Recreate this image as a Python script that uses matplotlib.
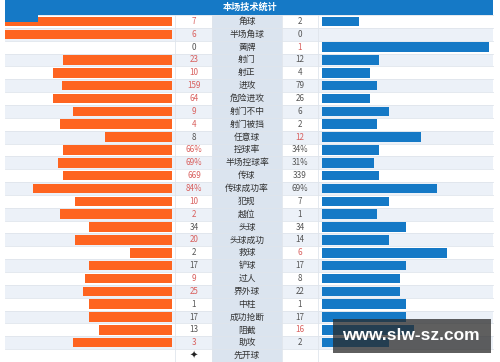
import numpy as np
import matplotlib
matplotlib.use("Agg")
import matplotlib.pyplot as plt

plt.rcParams['font.family'] = ['Noto Sans CJK SC', 'DejaVu Sans']

# ---- data ----
title = "本场技术统计"
stats = ["角球", "半场角球", "黄牌", "射门", "射正", "进攻", "危险进攻", "射门不中",
         "射门被挡", "任意球", "控球率", "半场控球率", "传球", "传球成功率", "犯规",
         "越位", "头球", "头球成功", "救球", "铲球", "过人", "界外球", "中柱",
         "成功抢断", "阻截", "助攻", "先开球"]
home_vals = [7, 6, 0, 23, 10, 159, 64, 9, 4, 8, 66, 69, 669, 84, 10, 2, 34, 20, 2,
             17, 9, 25, 1, 17, 13, 3, None]
away_vals = [2, 0, 1, 12, 4, 79, 26, 6, 2, 12, 34, 31, 339, 69, 7, 1, 34, 14, 6,
             17, 8, 22, 1, 17, 16, 2, None]
pct_rows = ["控球率", "半场控球率", "传球成功率"]
# bar share (%) as drawn in the picture
home_share = [100, 100, 0, 65, 71, 66, 71, 59, 67, 40, 65, 68, 65, 83, 58, 67, 50,
              58, 25, 50, 52, 53, 50, 50, 44, 59, 0]
away_share = [22, 0, 100, 34, 29, 33, 29, 40, 33, 59, 34, 31, 34, 69, 40, 33, 50,
              40, 75, 50, 47, 47, 50, 50, 55, 40, 0]

# ---- layout (pixels) ----
W, H = 500, 362
top = 15
row_h = (H - top) / len(stats)
x0, x1 = 5, 493
home_bar_end = 172
away_bar_start = 322
px_per_pct = 1.67
orange = "#fe6420"
blue = "#1579c6"
red_txt = "#d9605e"
gray_txt = "#555555"

fig = plt.figure(figsize=(5, 3.62), dpi=100)
ax = fig.add_axes([0, 0, 1, 1])
ax.set_xlim(0, W)
ax.set_ylim(H, 0)
ax.axis("off")

yc = top + (np.arange(len(stats)) + 0.5) * row_h

# row backgrounds
bg = ["#ffffff" if i % 2 == 0 else "#ecf1f8" for i in range(len(stats))]
ax.barh(yc, x1 - x0, left=x0, height=row_h, color=bg, zorder=0)
ax.barh(yc, 70, left=212, height=row_h, color="#dbe4ef", zorder=0.5)
for y in top + np.arange(len(stats) + 1) * row_h:
    ax.plot([x0, x1], [y, y], color="#dfe5ec", lw=0.6, zorder=1)
for x in [175, 212, 282, 318]:
    ax.plot([x, x], [top, H], color="#dfe5ec", lw=0.6, zorder=1)

# header
ax.barh(top / 2, x1 - x0, left=x0, height=top, color="#1579c6", zorder=2)
ax.barh(top + 3.5, 33, left=x0, height=7, color="#1579c6", zorder=2)
ax.text(W / 2, top / 2, title, color="white", fontsize=6.6, fontweight="bold",
        ha="center", va="center", zorder=3)

# bars
ax.barh(yc, -np.array(home_share) * px_per_pct, left=home_bar_end,
        height=row_h * 0.74, color=orange, zorder=1.5)
ax.barh(yc, np.array(away_share) * px_per_pct, left=away_bar_start,
        height=row_h * 0.74, color=blue, zorder=1.5)

# texts
for i, name in enumerate(stats):
    ax.text(247, yc[i], name, fontsize=6.3, color="#333333", ha="center",
            va="center", zorder=3)
    h, a = home_vals[i], away_vals[i]
    if h is None:
        ax.text(194, yc[i], "✦", fontsize=7, color="#222222", ha="center",
                va="center", zorder=3, family="DejaVu Sans")
        continue
    suf = "%" if name in pct_rows else ""
    ax.text(194, yc[i], f"{h}{suf}", fontsize=5.8, ha="center", va="center",
            color=red_txt if h > a else gray_txt, zorder=3)
    ax.text(300, yc[i], f"{a}{suf}", fontsize=5.8, ha="center", va="center",
            color=red_txt if a > h else gray_txt, zorder=3)

# watermark
ax.barh(336, 158, left=333, height=34, color="#2a2a2a", alpha=0.75, zorder=4)
ax.text(411, 335, "www.slw-sz.com", color="white", fontsize=12.5,
        fontweight="bold", ha="center", va="center", zorder=5,
        family="Liberation Sans")

fig.savefig("out.png", dpi=100)
